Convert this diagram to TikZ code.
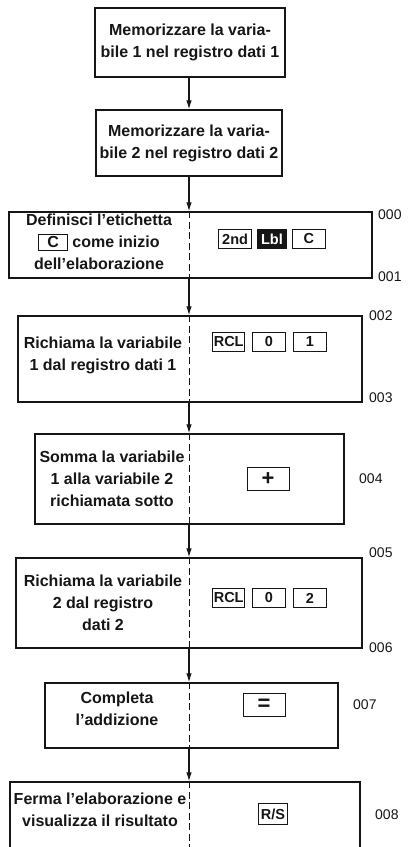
\documentclass[tikz,border=0pt]{standalone}
\usepackage{fontspec}
\setmainfont{Liberation Sans}
\usetikzlibrary{arrows.meta,positioning}
\definecolor{pgInk}{HTML}{161616}
\tikzset{
 chart/.style={x=1pt,y=-1pt,text=pgInk},
 stepbox/.style={rectangle,draw=pgInk,line width=1.3pt,inner sep=0pt},
 steptext/.style={align=center,inner sep=0pt,font=\fontsize{16}{22}\selectfont\bfseries},
 keycap/.style={rectangle,draw=pgInk,line width=.9pt,inner sep=1.5pt,
   minimum width=33pt,minimum height=19pt,font=\fontsize{14.5}{15}\selectfont\bfseries},
 keydark/.style={keycap,fill=pgInk,text=white,minimum width=29pt},
 bigkey/.style={keycap,minimum width=42pt,minimum height=23pt,font=\fontsize{22}{22}\selectfont\bfseries},
 addr/.style={anchor=west,inner sep=0pt,font=\fontsize{14}{15}\selectfont},
 flow/.style={draw=pgInk,line width=1.2pt,-{Latex[length=9pt,width=5.5pt]}},
 split/.style={draw=pgInk,line width=1pt,dash pattern=on 7pt off 3.5pt}
}
\newcommand{\inkey}[1]{{\fboxsep=2pt\fboxrule=.8pt\fbox{\makebox[24pt]{#1}}}}

\begin{document}
\begin{tikzpicture}[chart]
 \clip (0,0) rectangle (409,847);
 \coordinate (axis) at (189,0);
 % step boxes
 \node[stepbox,minimum width=190pt,minimum height=69pt] (s1) at (190,42.5) {};
 \node[stepbox,minimum width=186pt,minimum height=66pt] (s2) at (189,143) {};
 \node[stepbox,minimum width=363pt,minimum height=66pt] (s3) at (190.5,245) {};
 \node[stepbox,minimum width=344pt,minimum height=86pt] (s4) at (190,359) {};
 \node[stepbox,minimum width=309pt,minimum height=90pt] (s5) at (189.5,479) {};
 \node[stepbox,minimum width=346pt,minimum height=90pt] (s6) at (189,603) {};
 \node[stepbox,minimum width=293pt,minimum height=65pt] (s7) at (191.5,715.5) {};
 \node[stepbox,minimum width=350pt,minimum height=88pt] (s8) at (185,826) {};
 % arrows and split lines
 \draw[flow] (s1.south -| axis) -- (s2.north -| axis);
 \draw[flow] (s2.south -| axis) -- (s3.north -| axis);
 \draw[flow] (s3.south -| axis) -- (s4.north -| axis);
 \draw[flow] (s4.south -| axis) -- (s5.north -| axis);
 \draw[flow] (s5.south -| axis) -- (s6.north -| axis);
 \draw[flow] (s6.south -| axis) -- (s7.north -| axis);
 \draw[flow] (s7.south -| axis) -- (s8.north -| axis);
 \foreach \s in {s3,s4,s5,s6,s7,s8}
   \draw[split] (\s.north -| axis) -- (\s.south -| axis);
 % descriptions
 \node[steptext] (t1) at (190,42.5) {Memorizzare la varia-\\bile 1 nel registro dati 1};
 \node[steptext] (t2) at (189,143) {Memorizzare la varia-\\bile 2 nel registro dati 2};
 \node[steptext] (t3) at (99,242) {Definisci l’etichetta\\\inkey{C} come inizio\\dell’elaborazione};
 \node[steptext] (t4) at (103,355) {Richiama la variabile\\1 dal registro dati 1};
 \node[steptext] (t5) at (112,479) {Somma la variabile\\1 alla variabile 2\\richiamata sotto};
 \node[steptext] (t6) at (103,603) {Richiama la variabile\\2 dal registro\\dati 2};
 \node[steptext] (t7) at (117,709) {Completa\\l’addizione};
 \node[steptext] (t8) at (100,810) {Ferma l’elaborazione e\\visualizza il risultato};
 % keystrokes
 \node[keydark] (lbl) at (272,239) {Lbl};
 \node[keycap,left=5pt of lbl] (snd) {2nd};
 \node[keycap,right=5pt of lbl] (keyc) {C};
 \node[keycap] (zeroa) at (269,342) {0};
 \node[keycap,minimum width=0pt,inner xsep=1pt,left=7pt of zeroa] (rcla) {RCL};
 \node[keycap,right=7pt of zeroa] (onea) {1};
 \node[bigkey] (plus) at (268,479) {+};
 \node[keycap] (zerob) at (269,598) {0};
 \node[keycap,minimum width=0pt,inner xsep=1pt,left=7pt of zerob] (rclb) {RCL};
 \node[keycap,right=7pt of zerob] (twob) {2};
 \node[bigkey] (equal) at (264,705) {=};
 \node[keycap,minimum width=0pt,inner xsep=2pt,minimum height=21pt] (rs) at (273,814) {R/S};
 % program addresses
 \node[addr] at (378,215) {000};
 \node[addr] at (378,277) {001};
 \node[addr] at (369,316) {002};
 \node[addr] at (369,398) {003};
 \node[addr] at (359,479) {004};
 \node[addr] at (369,553) {005};
 \node[addr] at (369,648) {006};
 \node[addr] at (353,705) {007};
 \node[addr] at (375,815) {008};
\end{tikzpicture}
\end{document}
